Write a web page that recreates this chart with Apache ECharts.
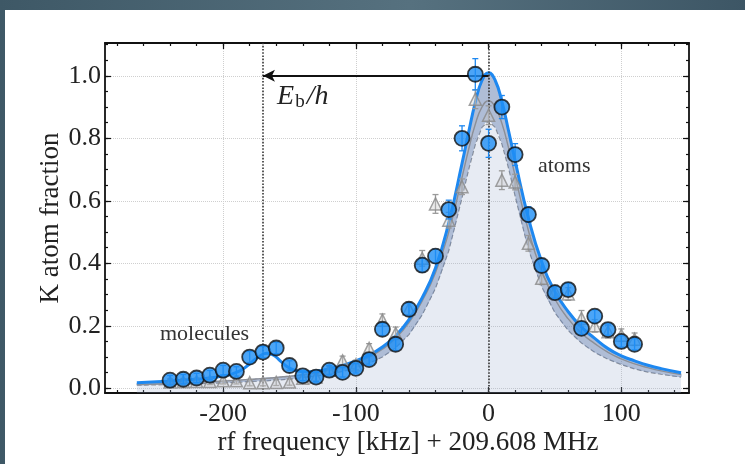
<!DOCTYPE html>
<html>
<head>
<meta charset="utf-8">
<script src="https://cdn.jsdelivr.net/npm/echarts@6/dist/echarts.min.js"></script>
<style>
html, body { margin: 0; padding: 0; }
body { width: 745px; height: 464px; overflow: hidden; position: relative;
       background: linear-gradient(90deg, #3e5866, #56717f 55%, #3d5665); }
#chart { position: absolute; left: 5px; top: 10px; width: 740px; height: 454px; background: #fff; }
</style>
</head>
<body>
<div id="chart"></div>
<script>
// measured points: K atom fraction vs rf detuning (kHz)
var freq = [-240, -230, -220, -210, -200, -190, -180, -170, -160, -150, -140, -130,
            -120, -110, -100, -90, -80, -70, -60, -50, -40, -30, -20, -10,
            0, 10, 20, 30, 40, 50, 60, 70, 80, 90, 100, 110];
var blueVals = [0.026, 0.029, 0.033, 0.042, 0.058, 0.054, 0.100, 0.116, 0.129, 0.073, 0.040, 0.036,
                0.058, 0.051, 0.064, 0.092, 0.189, 0.141, 0.253, 0.394, 0.423, 0.572, 0.800, 1.005,
                0.784, 0.900, 0.748, 0.556, 0.393, 0.306, 0.316, 0.192, 0.231, 0.188, 0.150, 0.141];
var blueErr = [0.015, 0.015, 0.015, 0.015, 0.015, 0.015, 0.018, 0.018, 0.018, 0.015, 0.015, 0.015,
               0.015, 0.015, 0.015, 0.018, 0.02, 0.02, 0.02, 0.022, 0.022, 0.03, 0.04, 0.05,
               0.045, 0.037, 0.035, 0.025, 0.02, 0.02, 0.02, 0.02, 0.02, 0.018, 0.018, 0.018];
var grayVals = [0.020, 0.021, 0.022, 0.022, 0.024, 0.024, 0.018, 0.018, 0.019, 0.020, 0.032, 0.036,
                0.058, 0.088, 0.075, 0.128, 0.218, 0.176, 0.255, 0.416, 0.590, 0.538, 0.645, 0.925,
                0.874, 0.666, 0.660, 0.464, 0.352, 0.310, 0.302, 0.224, 0.200, 0.181, 0.170, 0.157];
var grayErr = [0.01, 0.01, 0.01, 0.01, 0.01, 0.01, 0.01, 0.01, 0.01, 0.01, 0.012, 0.012,
               0.012, 0.015, 0.015, 0.015, 0.02, 0.02, 0.02, 0.025, 0.03, 0.025, 0.025, 0.03,
               0.03, 0.03, 0.025, 0.025, 0.02, 0.02, 0.02, 0.025, 0.02, 0.02, 0.02, 0.02];

// fitted curves
var curveX = [-265, -250, -240, -230, -220, -210, -200, -192, -185, -178, -172, -167, -162, -157,
              -152, -146, -140, -130, -120, -110, -100, -90, -80, -70, -60, -50, -40, -30, -20,
              -15, -10, -5, 0, 5, 10, 15, 20, 30, 40, 50, 60, 70, 80, 90, 100, 110, 120, 130, 145];
var blueFit = [0.018, 0.021, 0.023, 0.026, 0.029, 0.033, 0.039, 0.048, 0.062, 0.085, 0.104, 0.112, 0.106, 0.088,
               0.070, 0.058, 0.053, 0.055, 0.063, 0.074, 0.088, 0.106, 0.132, 0.168, 0.220, 0.290, 0.385, 0.530, 0.720,
               0.820, 0.915, 0.985, 1.010, 0.985, 0.918, 0.825, 0.728, 0.545, 0.405, 0.310, 0.245, 0.196, 0.160, 0.127, 0.104, 0.088, 0.074, 0.063, 0.050];
var bandTop = [0.018, 0.019, 0.020, 0.021, 0.022, 0.024, 0.026, 0.028, 0.029, 0.031, 0.033, 0.035, 0.036, 0.038,
               0.040, 0.043, 0.046, 0.052, 0.061, 0.072, 0.086, 0.104, 0.130, 0.166, 0.218, 0.288, 0.383, 0.528, 0.718,
               0.818, 0.913, 0.983, 1.008, 0.983, 0.916, 0.823, 0.726, 0.543, 0.403, 0.308, 0.243, 0.194, 0.158, 0.125, 0.102, 0.086, 0.072, 0.061, 0.048];
var graySolid = [0.012, 0.014, 0.015, 0.017, 0.019, 0.021, 0.023, 0.025, 0.027, 0.029, 0.031, 0.032, 0.034, 0.036,
                 0.038, 0.040, 0.043, 0.050, 0.058, 0.069, 0.082, 0.100, 0.125, 0.160, 0.210, 0.280, 0.370, 0.500, 0.675,
                 0.765, 0.845, 0.900, 0.920, 0.900, 0.848, 0.770, 0.680, 0.505, 0.375, 0.285, 0.222, 0.176, 0.143, 0.115, 0.094, 0.078, 0.066, 0.056, 0.044];
var grayDashed = [0.010, 0.011, 0.012, 0.013, 0.014, 0.016, 0.017, 0.019, 0.020, 0.022, 0.023, 0.024, 0.026, 0.027,
                  0.029, 0.031, 0.034, 0.039, 0.045, 0.054, 0.065, 0.080, 0.100, 0.130, 0.172, 0.235, 0.320, 0.440, 0.610,
                  0.700, 0.780, 0.835, 0.855, 0.835, 0.782, 0.705, 0.615, 0.445, 0.325, 0.242, 0.185, 0.145, 0.115, 0.093, 0.076, 0.062, 0.052, 0.045, 0.036];

// ticks
var xMajor = [-200, -100, 0, 100];
var xMinor = [-280, -260, -240, -220, -200, -180, -160, -140, -120, -100, -80, -60, -40, -20,
              0, 20, 40, 60, 80, 100, 120, 140];
var yMajor = [0, 0.2, 0.4, 0.6, 0.8, 1.0];
var yMinor = [0, 0.05, 0.1, 0.15, 0.2, 0.25, 0.3, 0.35, 0.4, 0.45, 0.5, 0.55, 0.6, 0.65, 0.7,
              0.75, 0.8, 0.85, 0.9, 0.95, 1.0, 1.05, 1.1];

var FONT = 'Liberation Serif';
var X_MIN = -289, X_MAX = 151, Y_MIN = -0.015, Y_MAX = 1.105;

function pairs(xs, ys) {
    return xs.map(function (x, i) { return [x, ys[i]]; });
}

function errorBars(xs, ys, es, color, z) {
    return {
        type: 'custom', z: z, silent: true,
        data: xs.map(function (x, i) { return [x, ys[i], es[i]]; }),
        renderItem: function (params, api) {
            var top = api.coord([api.value(0), api.value(1) + api.value(2)]);
            var bot = api.coord([api.value(0), api.value(1) - api.value(2)]);
            var w = 3;
            var st = { stroke: color, lineWidth: 1.3 };
            return { type: 'group', children: [
                { type: 'line', shape: { x1: top[0], y1: top[1], x2: bot[0], y2: bot[1] }, style: st },
                { type: 'line', shape: { x1: top[0] - w, y1: top[1], x2: top[0] + w, y2: top[1] }, style: st },
                { type: 'line', shape: { x1: bot[0] - w, y1: bot[1], x2: bot[0] + w, y2: bot[1] }, style: st }
            ]};
        }
    };
}

function xAx(pos, ticks, len, labels, line) {
    return {
        type: 'value', position: pos, min: X_MIN, max: X_MAX,
        axisLine: { show: line, onZero: false, lineStyle: { color: '#111', width: 1.8 } },
        axisTick: { show: true, inside: true, length: len, customValues: ticks, lineStyle: { color: '#111', width: 1.2 } },
        axisLabel: { show: labels, customValues: ticks, margin: 8, fontFamily: FONT, fontSize: 26, color: '#222' },
        splitLine: { show: false }
    };
}
function yAx(pos, ticks, len, labels, line) {
    return {
        type: 'value', position: pos, min: Y_MIN, max: Y_MAX,
        axisLine: { show: line, onZero: false, lineStyle: { color: '#111', width: 1.8 } },
        axisTick: { show: true, inside: true, length: len, customValues: ticks, lineStyle: { color: '#111', width: 1.2 } },
        axisLabel: { show: labels, customValues: ticks, margin: 4, fontFamily: FONT, fontSize: 26, color: '#222',
                     formatter: function (v) { return v.toFixed(1); } },
        splitLine: { show: false }
    };
}

var xAxes = [xAx('bottom', xMajor, 6, true, true), xAx('bottom', xMinor, 3, false, false),
             xAx('top', xMajor, 6, false, true), xAx('top', xMinor, 3, false, false)];
xAxes[0].splitLine = { show: true, lineStyle: { color: '#cfcfcf', type: 'dotted', width: 1 } };
xAxes[0].name = 'rf frequency [kHz] + 209.608 MHz';
xAxes[0].nameLocation = 'middle';
xAxes[0].nameGap = 36;
xAxes[0].nameMoveOverlap = false;
xAxes[0].nameTextStyle = { fontFamily: FONT, fontSize: 27, color: '#222', padding: [0, 0, 0, 22] };

var yAxes = [yAx('left', yMajor, 6, true, true), yAx('left', yMinor, 3, false, false),
             yAx('right', yMajor, 6, false, true), yAx('right', yMinor, 3, false, false)];
yAxes[0].splitLine = { show: true, lineStyle: { color: '#cfcfcf', type: 'dotted', width: 1 } };
yAxes[0].name = 'K atom fraction';
yAxes[0].nameLocation = 'middle';
yAxes[0].nameGap = 41;
yAxes[0].nameMoveOverlap = false;
yAxes[0].nameTextStyle = { fontFamily: FONT, fontSize: 27, color: '#222' };

var chart = echarts.init(document.getElementById('chart'));
chart.setOption({
    animation: false,
    grid: { left: 100, top: 33, right: 56, bottom: 71, containLabel: false },
    xAxis: xAxes,
    yAxis: yAxes,
    series: [
        {   // light fill under the lower curve, dashed edge
            type: 'line', z: 1, data: pairs(curveX, grayDashed), showSymbol: false, silent: true,
            lineStyle: { color: '#8a8f98', width: 1.2, type: 'dashed' },
            areaStyle: { origin: 'start', color: 'rgba(150,170,205,0.33)' }
        },
        {   // darker uncertainty band between the curves
            type: 'custom', z: 2, silent: true, data: [[0, 0]],
            renderItem: function (params, api) {
                var pts = [], i;
                for (i = 0; i < curveX.length; i++) pts.push(api.coord([curveX[i], bandTop[i]]));
                for (i = curveX.length - 1; i >= 0; i--) pts.push(api.coord([curveX[i], grayDashed[i]]));
                return { type: 'polygon', shape: { points: pts, smooth: 0.3 }, style: { fill: 'rgba(110,135,180,0.55)' } };
            }
        },
        {
            type: 'line', z: 3, data: pairs(curveX, graySolid), showSymbol: false, smooth: true, silent: true,
            lineStyle: { color: '#8c8f96', width: 1.4 }
        },
        {
            type: 'line', z: 4, data: pairs(curveX, blueFit), showSymbol: false, smooth: true, silent: true,
            lineStyle: { color: '#1e88f0', width: 3 },
            markLine: {
                silent: true, symbol: 'none', animation: false,
                label: { show: false },
                data: [
                    { xAxis: -170, lineStyle: { type: 'dotted', color: '#333', width: 1.6 } },
                    { xAxis: 0, lineStyle: { type: 'dotted', color: '#333', width: 1.6 } },
                    [ { coord: [0, 1.0], symbol: 'none' },
                      { coord: [-170, 1.0], symbol: 'arrow', symbolSize: [9, 12], lineStyle: { type: 'solid', color: '#111', width: 2 } } ]
                ]
            },
            markPoint: {
                silent: true, symbol: 'circle', symbolSize: 1, itemStyle: { color: 'rgba(0,0,0,0)' },
                data: [
                    { coord: [-214, 0.173], label: { show: true, formatter: 'molecules', fontFamily: FONT, fontSize: 22, color: '#333' } },
                    { coord: [57, 0.711], label: { show: true, formatter: 'atoms', fontFamily: FONT, fontSize: 22, color: '#333' } },
                    { coord: [-140, 0.932], label: { show: true, formatter: '{e|E}{s|b}{e|/h}',
                        rich: {
                            e: { fontFamily: FONT, fontStyle: 'italic', fontSize: 28, color: '#222' },
                            s: { fontFamily: FONT, fontSize: 19, color: '#222', padding: [10, 2, 0, 1] }
                        } } }
                ]
            }
        },
        errorBars(freq, grayVals, grayErr, '#9a9a9a', 5),
        {
            type: 'scatter', z: 6, data: pairs(freq, grayVals), symbol: 'triangle', symbolSize: 12, silent: true,
            itemStyle: { color: 'rgba(200,200,200,0.45)', borderColor: '#8a8a8a', borderWidth: 1.5 }
        },
        errorBars(freq, blueVals, blueErr, '#1e88f0', 7),
        {
            type: 'scatter', z: 8, data: pairs(freq, blueVals), symbol: 'circle', symbolSize: 15, silent: true,
            itemStyle: { color: '#1e8ef5', borderColor: '#111', borderWidth: 1.8 }
        }
    ]
});
</script>
</body>
</html>
